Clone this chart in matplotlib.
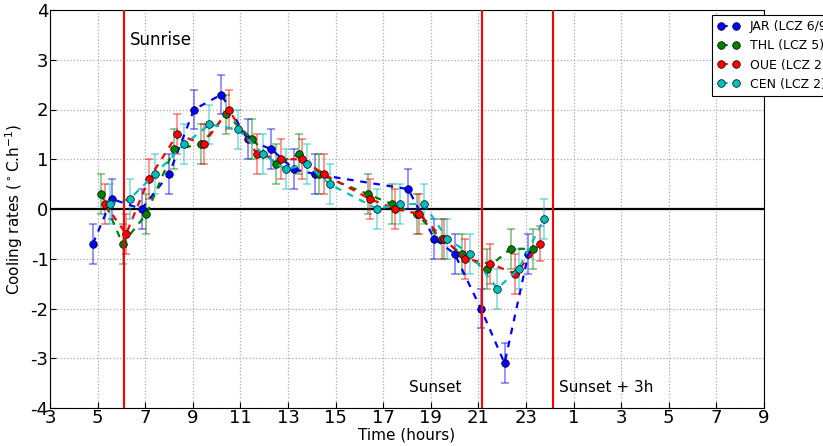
import matplotlib
matplotlib.use('Agg')
import matplotlib.pyplot as plt
from matplotlib import font_manager

plt.rcParams['axes.unicode_minus'] = False

# Data (time in hours, >24 means next day)
jar_t = [4.8, 5.6, 6.85, 8.0, 9.05, 10.2, 11.3, 12.3, 13.25, 14.15, 18.05, 19.15, 20.0, 21.1, 22.1, 23.1]
jar_v = [-0.7, 0.2, 0.0, 0.7, 2.0, 2.3, 1.4, 1.2, 0.8, 0.7, 0.4, -0.6, -0.9, -2.0, -3.1, -0.9]
jar_e = [0.4, 0.4, 0.4, 0.4, 0.4, 0.4, 0.4, 0.4, 0.4, 0.4, 0.4, 0.4, 0.4, 0.4, 0.4, 0.4]

thl_t = [5.15, 6.05, 7.05, 8.2, 9.35, 10.4, 11.5, 12.5, 13.45, 14.3, 16.35, 17.35, 18.4, 19.45, 20.3, 21.35, 22.35, 23.3]
thl_v = [0.3, -0.7, -0.1, 1.2, 1.3, 1.9, 1.4, 0.9, 1.1, 0.7, 0.3, 0.1, -0.1, -0.6, -0.9, -1.2, -0.8, -0.8]
thl_e = [0.4, 0.4, 0.4, 0.4, 0.4, 0.4, 0.4, 0.4, 0.4, 0.4, 0.4, 0.4, 0.4, 0.4, 0.4, 0.4, 0.4, 0.4]

oue_t = [5.3, 6.2, 7.15, 8.35, 9.45, 10.5, 11.7, 12.7, 13.6, 14.5, 16.45, 17.5, 18.5, 19.55, 20.45, 21.5, 22.55, 23.6]
oue_v = [0.1, -0.5, 0.6, 1.5, 1.3, 2.0, 1.1, 1.0, 1.0, 0.7, 0.2, 0.0, -0.1, -0.6, -1.0, -1.1, -1.3, -0.7]
oue_e = [0.4, 0.4, 0.4, 0.4, 0.4, 0.4, 0.4, 0.4, 0.4, 0.4, 0.4, 0.4, 0.4, 0.4, 0.4, 0.4, 0.4, 0.35]

cen_t = [5.5, 6.35, 7.4, 8.65, 9.7, 10.9, 11.95, 12.9, 13.8, 14.75, 16.75, 17.7, 18.7, 19.7, 20.65, 21.8, 22.7, 23.75]
cen_v = [0.1, 0.2, 0.7, 1.3, 1.7, 1.6, 1.1, 0.8, 0.9, 0.5, 0.0, 0.1, 0.1, -0.6, -0.9, -1.6, -1.2, -0.2]
cen_e = [0.4, 0.4, 0.4, 0.4, 0.4, 0.4, 0.4, 0.4, 0.4, 0.4, 0.4, 0.4, 0.4, 0.4, 0.4, 0.4, 0.4, 0.4]

sunrise = 6.1
sunset = 21.15
xticks = list(range(3, 34, 2))

# narrow face for tick labels if one is installed
names = {f.name for f in font_manager.fontManager.ttflist}
narrow = 'Liberation Sans Narrow' if 'Liberation Sans Narrow' in names else 'DejaVu Sans'

fig = plt.figure(figsize=(8.23, 4.46), dpi=100)
ax = fig.add_axes([50 / 823, 38 / 446, 714 / 823, 398 / 446])

series = [
    (jar_t, jar_v, jar_e, 'b', 'JAR (LCZ 6/9)'),
    (thl_t, thl_v, thl_e, 'g', 'THL (LCZ 5)'),
    (oue_t, oue_v, oue_e, 'r', 'OUE (LCZ 2)'),
    (cen_t, cen_v, cen_e, 'c', 'CEN (LCZ 2)'),
]
handles = []
for t, v, e, col, lab in series:
    ax.errorbar(t, v, yerr=e, fmt='none', ecolor=col, alpha=0.45,
                elinewidth=1.3, capsize=3, capthick=1.3, zorder=2)
    h, = ax.plot(t, v, '--o', color=col, lw=1.6, ms=5.5, mec='k', mew=0.5,
                 dashes=(3, 3), label=lab, zorder=3)
    handles.append(h)

ax.axhline(0, color='k', lw=1.6, zorder=1.8)
for xv in [sunrise, sunset, sunset + 3]:
    ax.axvline(xv, color='r', lw=1.5, zorder=4)

ax.text(sunrise + 0.25, 3.3, 'Sunrise', fontsize=12)
ax.text(sunset - 3.05, -3.68, 'Sunset', fontsize=11)
ax.text(sunset + 3.25, -3.68, 'Sunset + 3h', fontsize=11)

ax.set_xlim(3, 33)
ax.set_ylim(-4, 4)
ax.set_xticks(xticks)
ax.set_xticklabels([str(t % 24) for t in xticks])
ax.set_yticks(range(-4, 5))
for lbl in ax.get_xticklabels() + ax.get_yticklabels():
    lbl.set_fontsize(15 if narrow != 'DejaVu Sans' else 13)
    lbl.set_family(narrow)
ax.tick_params(direction='in', length=4, pad=1)
ax.grid(True, color='#aaaaaa', linestyle=':', lw=0.9)

ax.set_xlabel('Time (hours)', fontsize=13 if narrow != 'DejaVu Sans' else 11,
              labelpad=0, family=narrow)
ax.set_ylabel(r'Cooling rates ($^\circ$C.h$^{-1}$)', fontsize=11)

leg = ax.legend(handles=handles, loc='upper left', bbox_to_anchor=(712 / 823, 1 - 15 / 446),
                bbox_transform=fig.transFigure, fontsize=9, numpoints=2,
                fancybox=False, framealpha=1, edgecolor='k', borderaxespad=0,
                handlelength=1.8, labelspacing=0.5)
leg.get_frame().set_linewidth(0.8)

fig.savefig('out.png', dpi=100)
